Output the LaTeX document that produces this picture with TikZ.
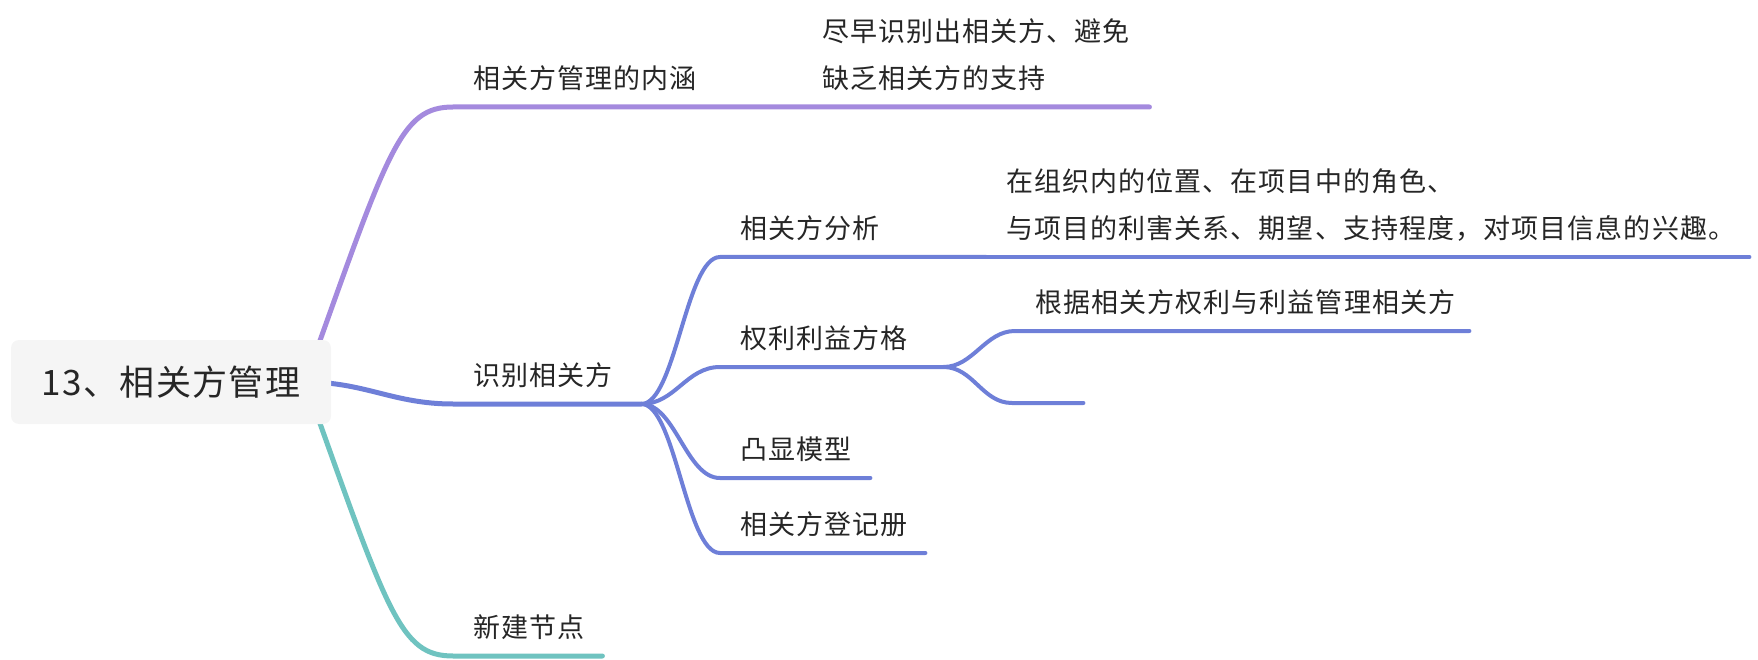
\documentclass[tikz,border=0pt]{standalone}
\usepackage{fontspec}
\setmainfont{Noto Sans CJK SC}[LetterSpace=4]
\usepackage{xcolor}
\usetikzlibrary{backgrounds}
\definecolor{mmPurple}{HTML}{A48ADE}
\definecolor{mmBlue}{HTML}{6E7FD8}
\definecolor{mmTeal}{HTML}{6FC3C0}
\definecolor{mmText}{HTML}{262626}
\definecolor{mmRoot}{HTML}{F5F5F5}

\begin{document}
\begin{tikzpicture}[x=1pt,y=-1pt,
  font=\fontsize{27}{47}\selectfont, text=mmText,
  topic/.style={anchor=south west, inner xsep=20pt, inner ysep=13pt, align=left,
    execute at end node={\rule[-5pt]{0pt}{5pt}}},
  rootbox/.style={fill=mmRoot, rounded corners=8pt, minimum width=320pt,
    minimum height=84pt, font=\fontsize{35}{40}\selectfont},
  branch/.style={line width=5pt, line cap=round},
  subbranch/.style={line width=4pt, line cap=round}]
\useasboundingbox (0,0) rectangle (1758,660);
% central topic
\node[rootbox] (root) at (171,382) {13、相关方管理};
% main topics and their children
\node[topic, text width=309pt] (meaning) at (453,107) {相关方管理的内涵};
\node[topic, text width=307pt] (meaningA) at (802,107) {尽早识别出相关方、避免\\缺乏相关方的支持};
\node[topic, text width=148pt] (identify) at (453,404) {识别相关方};
\node[topic, text width=226pt] (analysis) at (720,257) {相关方分析};
\node[topic, text width=723pt] (analysisA) at (986,257) {在组织内的位置、在项目中的角色、\\与项目的利害关系、期望、支持程度，对项目信息的兴趣。};
\node[topic, text width=183pt] (grid) at (720,367) {权利利益方格};
\node[topic, text width=414pt] (gridA) at (1015,331) {根据相关方权利与利益管理相关方};
\node[topic, text width=31pt] (gridB) at (1012,403) {};
\node[topic, text width=110pt] (salience) at (720,478) {凸显模型};
\node[topic, text width=165pt] (register) at (720,553) {相关方登记册};
\node[topic, text width=109pt] (newtopic) at (453,656) {新建节点};
% connectors, behind the central box
\begin{scope}[on background layer]
\draw[branch, mmPurple] ([xshift=-26pt]root.east) .. controls +(83,-232) and +(-53,0) .. (meaning.south west) -- (meaning.south east) -- (meaningA.south east);
\draw[branch, mmBlue] ([xshift=-26pt]root.east) .. controls +(60,0) and +(-60,0) .. (identify.south west) -- (identify.south east);
\draw[branch, mmTeal] ([xshift=-26pt]root.east) .. controls +(83,232) and +(-53,0) .. (newtopic.south west) -- (newtopic.south east);
\foreach \n in {analysis,grid,salience,register}
  \draw[subbranch, mmBlue] (identify.south east) .. controls +(34,0) and +(-34,0) .. (\n.south west) -- (\n.south east);
\draw[subbranch, mmBlue] (analysis.south east) -- (analysisA.south east);
\foreach \n in {gridA,gridB}
  \draw[subbranch, mmBlue] (grid.south east) .. controls +(30,0) and +(-30,0) .. (\n.south west) -- (\n.south east);
\end{scope}
\end{tikzpicture}
\end{document}
